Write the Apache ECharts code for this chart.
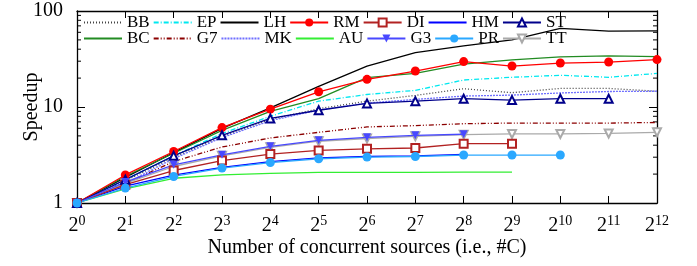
<!DOCTYPE html>
<html lang="en">
<head>
    <meta charset="UTF-8">
    <title>Speedup vs concurrent sources</title>
    <script src="https://cdn.jsdelivr.net/npm/echarts@6.0.0/dist/echarts.min.js"></script>
</head>
<body style="margin:0">
    <div id="main" style="width: 697px; height: 266px;"></div>
    <script type="text/javascript">
        // number of concurrent sources (2^0 .. 2^12)
        const sources = [1, 2, 4, 8, 16, 32, 64, 128, 256, 512, 1024, 2048, 4096];

        // speedup per workload
        const BB = [1, 1.7, 3.0, 4.9, 7.4, 9.6, 11.5, 13.2, 15.5, 14.1, 15.6, 15.6, 14.6];
        const EP = [1, 1.75, 3.1, 5.3, 8.0, 11.5, 13.5, 14.9, 19.1, 20.4, 21.4, 20.4, 22.4];
        const LH = [1, 1.85, 3.35, 6.0, 9.8, 16.4, 26.7, 36.9, 43.3, 50, 65.9, 61.8, 62];
        const RM = [1, 1.96, 3.44, 6.1, 9.5, 14.4, 19.4, 23.7, 29.7, 26.7, 28.7, 29.4, 31.2];
        const DI = [1, 1.55, 2.18, 2.77, 3.23, 3.53, 3.67, 3.74, 4.15, 4.15];
        const HM = [1, 1.5, 1.95, 2.35, 2.7, 2.95, 3.05, 3.1, 3.2];
        const ST = [1, 1.75, 3.1, 5.07, 7.6, 9.25, 10.9, 11.5, 12.2, 11.8, 12.2, 12.2];
        const BC = [1, 1.9, 3.3, 5.7, 9.0, 12.2, 20.2, 22.4, 27.9, 31, 33.2, 34.1, 33.5];
        const G7 = [1, 1.6, 2.7, 3.83, 4.76, 5.45, 6.2, 6.4, 6.7, 6.8, 6.8, 6.8, 6.9];
        const MK = [1, 1.6, 2.9, 4.8, 7.2, 9.3, 11, 12, 13, 13.3, 14, 14.5, 14.6];
        const AU = [1, 1.4, 1.81, 1.96, 2.04, 2.08, 2.08, 2.08, 2.1, 2.1];
        const G3 = [1, 1.65, 2.5, 3.18, 3.89, 4.5, 4.83, 5.07, 5.2];
        const PR = [1, 1.43, 1.89, 2.31, 2.64, 2.89, 3.01, 3.05, 3.16, 3.16, 3.16];
        const TT = [1, 1.6, 2.4, 3.1, 3.8, 4.4, 4.7, 4.95, 5.15, 5.24, 5.24, 5.3, 5.45];

        const row1 = ['BB', 'EP', 'LH', 'RM', 'DI', 'HM', 'ST'];
        const row2 = ['BC', 'G7', 'MK', 'AU', 'G3', 'PR', 'TT'];
        // series drawn as plain lines (no point markers)
        const plain = ['BB', 'EP', 'LH', 'HM', 'BC', 'G7', 'MK', 'AU'];

        // minor ticks on the log y axis
        const yMinor = [2, 3, 4, 5, 6, 7, 8, 9, 20, 30, 40, 50, 60, 70, 80, 90];

        const font = 'Liberation Serif';

        function line(name, vals, color, opts) {
            opts = opts || {};
            return {
                name: name,
                type: 'line',
                data: vals.map((v, i) => [sources[i], v]),
                symbol: opts.symbol || 'none',
                symbolSize: opts.size || 8,
                symbolRotate: opts.rotate || 0,
                itemStyle: { color: color },
                lineStyle: { color: color, width: 1.3, type: opts.dash || 'solid' },
                z: opts.z || 2
            };
        }

        // hide the default circle the legend puts on marker-less lines
        function legendItems(names) {
            return names.map(n => plain.includes(n) ? { name: n, itemStyle: { opacity: 0 } } : n);
        }

        const legendBase = {
            left: 78,
            itemWidth: 38,
            itemHeight: 10,
            itemGap: 3,
            selectedMode: false,
            textStyle: { fontFamily: font, fontSize: 17, color: '#000', width: 25 }
        };

        let myChart = echarts.init(document.getElementById('main'));

        let options = {
            animation: false,
            grid: { left: 77, right: 40, top: 11, bottom: 63, outerBoundsMode: 'none', containLabel: false },
            legend: [
                Object.assign({ top: 9, data: legendItems(row1) }, legendBase),
                Object.assign({ top: 25, data: legendItems(row2) }, legendBase)
            ],
            xAxis: [{
                type: 'log',
                logBase: 2,
                min: 1,
                max: 4096,
                interval: 1,
                name: 'Number of concurrent sources (i.e., #C)',
                nameLocation: 'middle',
                nameGap: 35,
                nameMoveOverlap: false,
                nameTextStyle: { fontFamily: font, fontSize: 20, color: '#000' },
                axisLine: { lineStyle: { color: '#000', width: 1.3 } },
                axisTick: { inside: true, length: 7, lineStyle: { color: '#000' } },
                splitLine: { show: false },
                axisLabel: {
                    margin: 11,
                    formatter: v => '{b|2}{s|' + Math.round(Math.log2(v)) + '}',
                    rich: {
                        b: { fontFamily: font, fontSize: 20, color: '#000' },
                        s: { fontFamily: font, fontSize: 14, color: '#000', padding: [0, 0, 9, 0] }
                    }
                }
            }, {
                type: 'log',
                logBase: 2,
                min: 1,
                max: 4096,
                interval: 1,
                position: 'top',
                axisLine: { lineStyle: { color: '#000', width: 1.3 } },
                axisTick: { inside: true, length: 7, lineStyle: { color: '#000' } },
                axisLabel: { show: false },
                splitLine: { show: false }
            }],
            yAxis: [{
                type: 'log',
                logBase: 10,
                min: 1,
                max: 100,
                interval: 1,
                name: 'Speedup',
                nameLocation: 'middle',
                nameGap: 35,
                nameMoveOverlap: false,
                nameTextStyle: { fontFamily: font, fontSize: 20, color: '#000' },
                axisLine: { lineStyle: { color: '#000', width: 1.3 } },
                axisTick: { inside: true, length: 8, lineStyle: { color: '#000' } },
                splitLine: { show: false },
                axisLabel: { margin: 14, fontFamily: font, fontSize: 20, color: '#000' }
            }, {
                type: 'log',
                logBase: 10,
                min: 1,
                max: 100,
                interval: 1,
                position: 'right',
                axisLine: { lineStyle: { color: '#000', width: 1.3 } },
                axisTick: { inside: true, length: 8, lineStyle: { color: '#000' } },
                axisLabel: { show: false },
                splitLine: { show: false }
            }],
            series: [
                line('BB', BB, '#444444', { dash: [1, 2] }),
                line('EP', EP, '#00e8f0', { dash: [5, 2, 1, 2] }),
                line('LH', LH, '#000000'),
                line('RM', RM, '#ff0000', { symbol: 'circle', size: 9, z: 4 }),
                line('DI', DI, '#b22222', { symbol: 'emptyRect', size: 8, z: 4 }),
                line('HM', HM, '#0000ff'),
                line('ST', ST, '#00008b', { symbol: 'emptyTriangle', size: 8, z: 4 }),
                line('BC', BC, '#228b22'),
                line('G7', G7, '#8b0000', { dash: [5, 2, 1, 2, 1, 2] }),
                line('MK', MK, '#6f6fff', { dash: [2, 1] }),
                line('AU', AU, '#33ee33'),
                line('G3', G3, '#4848ff', { symbol: 'triangle', size: 8, rotate: 180, z: 4 }),
                line('PR', PR, '#2aa8ff', { symbol: 'circle', size: 9, z: 4 }),
                line('TT', TT, '#aaaaaa', { symbol: 'emptyTriangle', size: 8, rotate: 180, z: 3 }),
                {
                    // minor ticks on left and right borders
                    type: 'custom',
                    silent: true,
                    data: yMinor.map(v => [1, v]),
                    renderItem: function (params, api) {
                        const l = api.coord([1, api.value(1)]);
                        const r = api.coord([4096, api.value(1)]);
                        const st = { stroke: '#000', lineWidth: 1 };
                        return {
                            type: 'group',
                            children: [
                                { type: 'line', shape: { x1: l[0], y1: l[1], x2: l[0] + 4, y2: l[1] }, style: st },
                                { type: 'line', shape: { x1: r[0], y1: r[1], x2: r[0] - 4, y2: r[1] }, style: st }
                            ]
                        };
                    }
                }
            ]
        };

        myChart.setOption(options);
    </script>
</body>
</html>
